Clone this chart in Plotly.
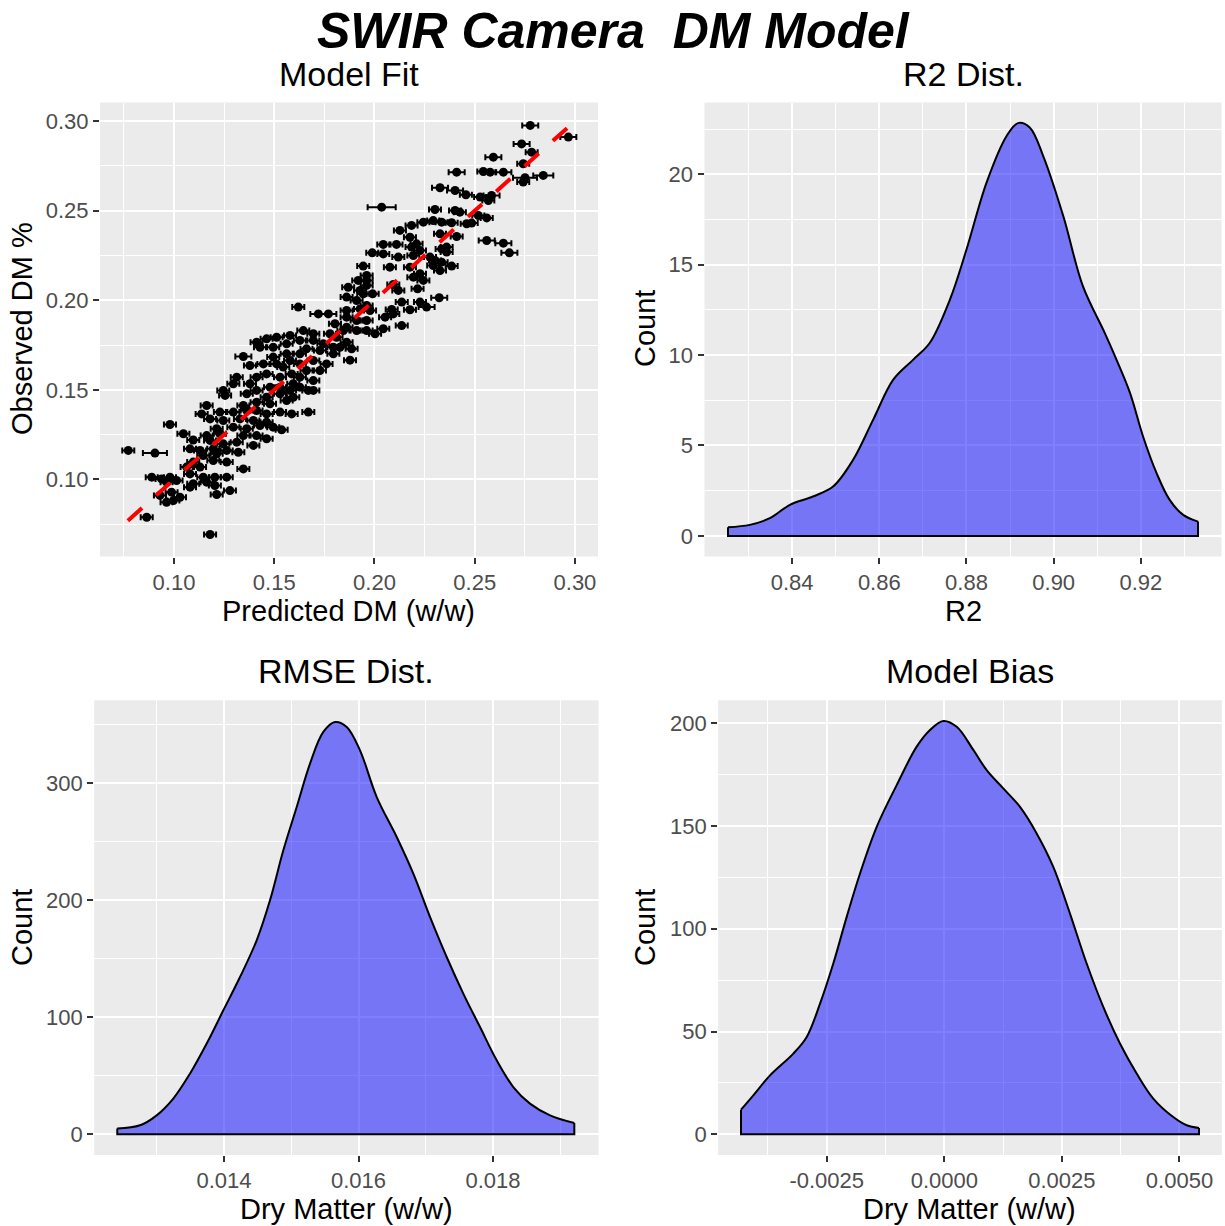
import plotly.graph_objects as go

FONT = "Liberation Sans, Arial, sans-serif"

# ---------------- Data ----------------
# Model fit: predicted vs observed DM with horizontal error (predicted SD)
pred_dm = [0.2777,0.2967,0.2734,0.2784,0.2593,0.2742,0.2410,0.2543,0.2577,0.2643,
0.2842,0.2751,0.2742,0.2327,0.2402,0.2456,0.2584,0.2568,0.2036,0.2302,
0.2402,0.2426,0.2518,0.2560,0.2485,0.2244,0.2185,0.2335,0.2385,0.2127,
0.2560,0.2643,0.2673,0.2410,0.2327,0.2177,0.2210,0.2044,0.2110,0.1989,
0.2044,0.2119,0.2194,0.2227,0.2335,0.2360,0.2335,0.2385,0.2293,0.2327,
0.1944,0.1961,0.2177,0.2227,0.2194,0.2244,0.1919,0.1869,0.1961,0.2094,
0.2215,0.1928,0.2119,0.2323,0.1861,0.1944,0.1991,0.2227,0.2260,0.2136,
0.2177,0.2086,0.2053,0.1961,0.1928,0.1861,0.1978,0.1620,0.1720,0.1770,
0.1861,0.1911,0.1961,0.1803,0.1861,0.1911,0.1961,0.2044,0.2003,0.1645,
0.1695,0.1778,0.1811,0.1861,0.1886,0.1828,0.1878,0.1412,0.1462,0.1512,
0.1579,0.1346,0.1429,0.1495,0.1562,0.1628,0.1695,0.1745,0.1661,0.1728,
0.1795,0.1628,0.1562,0.1495,0.1446,0.1512,0.1579,0.1628,0.1695,0.1761,
0.1661,0.1728,0.1462,0.1529,0.1587,0.1628,0.1695,0.1595,0.1529,0.1479,
0.1579,0.1628,0.1670,0.1412,0.1379,0.1296,0.1246,0.1255,0.1363,0.1462,
0.1529,0.1595,0.1163,0.1346,0.1412,0.1479,0.1229,0.1296,0.1363,0.1412,
0.1462,0.1529,0.1587,0.1670,0.1138,0.1180,0.1246,0.1329,0.1396,0.1462,
0.0980,0.1213,0.1296,0.1363,0.1429,0.1495,0.1537,0.1047,0.1163,0.1229,
0.1346,0.1412,0.1462,0.1096,0.1180,0.1246,0.1313,0.1396,0.1080,0.1130,
0.1196,0.1263,0.1321,0.0772,0.0905,0.1146,0.1213,0.1096,0.1196,0.1263,
0.1063,0.1130,0.1346,0.0889,0.0938,0.0980,0.1080,0.1146,0.1204,0.1263,
0.0963,0.1013,0.1096,0.1163,0.1080,0.1204,0.1279,0.0930,0.0988,0.1030,
0.1213,0.0963,0.0997,0.0864,0.1180,0.1379,0.1313,0.1412,0.1545,0.1695,
0.1562,0.1795,0.1845,0.1911,0.1961,0.2077,0.2460,0.2527,0.2136,0.2094,
0.2293,0.2185,0.2302,0.2360,0.2277]

obs_dm = [0.2976,0.2911,0.2873,0.2827,0.2799,0.2762,0.2715,0.2719,0.2715,0.2715,
0.2697,0.2684,0.2660,0.2628,0.2613,0.2589,0.2585,0.2557,0.2520,0.2507,
0.2501,0.2492,0.2473,0.2460,0.2431,0.2436,0.2418,0.2436,0.2433,0.2390,
0.2334,0.2319,0.2265,0.2356,0.2371,0.2352,0.2315,0.2312,0.2312,0.2265,
0.2259,0.2241,0.2250,0.2278,0.2287,0.2269,0.2213,0.2191,0.2194,0.2166,
0.2191,0.2139,0.2185,0.2148,0.2129,0.2111,0.2111,0.2073,0.2083,0.2088,
0.2064,0.2055,0.2055,0.2014,0.2018,0.2036,0.2036,0.1990,0.1962,0.1990,
0.1947,0.1949,0.1906,0.1971,0.1952,0.1943,0.1943,0.1962,0.1924,0.1924,
0.1906,0.1887,0.1887,0.1869,0.1850,0.1831,0.1831,0.1841,0.1813,0.1831,
0.1813,0.1813,0.1794,0.1766,0.1729,0.1738,0.1666,0.1766,0.1785,0.1794,
0.1804,0.1686,0.1738,0.1738,0.1757,0.1776,0.1776,0.1757,0.1729,0.1720,
0.1701,0.1701,0.1701,0.1683,0.1645,0.1645,0.1664,0.1645,0.1664,0.1645,
0.1608,0.1608,0.1589,0.1571,0.1589,0.1571,0.1552,0.1534,0.1515,0.1515,
0.1497,0.1515,0.1497,0.1497,0.1534,0.1534,0.1497,0.1469,0.1478,0.1459,
0.1478,0.1459,0.1413,0.1413,0.1431,0.1422,0.1376,0.1376,0.1385,0.1385,
0.1366,0.1376,0.1366,0.1376,0.1366,0.1338,0.1329,0.1338,0.1329,0.1320,
0.1307,0.1283,0.1292,0.1283,0.1301,0.1292,0.1277,0.1255,0.1245,0.1255,
0.1245,0.1245,0.1227,0.1220,0.1218,0.1199,0.1208,0.1190,0.1171,0.1162,
0.1171,0.1162,0.1152,0.1162,0.1147,0.1134,0.1143,0.1097,0.1106,0.1097,
0.1069,0.1069,0.1059,0.1013,0.1003,0.1013,0.1031,0.1013,0.1013,0.1013,
0.0985,0.0994,0.0976,0.0985,0.0957,0.0966,0.0938,0.0911,0.0929,0.0901,
0.0916,0.0873,0.0882,0.0789,0.0693,0.1636,0.1571,0.1571,0.1627,0.1497,
0.1441,0.1738,0.1831,0.1999,0.2111,0.2185,0.2427,0.2576,0.1859,0.1924,
0.2445,0.2297,0.2222,0.2297,0.2241]

pred_sd = [0.004,0.004,0.004,0.003,0.004,0.003,0.004,0.003,0.003,0.004,
0.005,0.006,0.003,0.004,0.004,0.003,0.004,0.003,0.007,0.003,
0.003,0.003,0.003,0.003,0.003,0.003,0.003,0.003,0.003,0.003,
0.004,0.004,0.004,0.003,0.003,0.003,0.003,0.003,0.003,0.003,
0.003,0.003,0.003,0.003,0.003,0.003,0.003,0.003,0.003,0.003,
0.003,0.003,0.003,0.003,0.003,0.003,0.003,0.003,0.003,0.003,
0.003,0.003,0.003,0.004,0.003,0.003,0.003,0.003,0.004,0.003,
0.003,0.003,0.003,0.003,0.003,0.003,0.003,0.003,0.004,0.004,
0.003,0.003,0.003,0.003,0.003,0.003,0.003,0.003,0.003,0.003,
0.003,0.003,0.003,0.003,0.003,0.003,0.003,0.003,0.003,0.003,
0.003,0.004,0.003,0.003,0.003,0.003,0.003,0.003,0.003,0.003,
0.003,0.003,0.003,0.003,0.003,0.003,0.003,0.003,0.003,0.003,
0.003,0.003,0.003,0.003,0.003,0.003,0.003,0.003,0.003,0.003,
0.003,0.003,0.003,0.003,0.003,0.003,0.003,0.003,0.003,0.003,
0.003,0.003,0.003,0.003,0.003,0.003,0.003,0.003,0.003,0.003,
0.003,0.003,0.003,0.003,0.003,0.003,0.003,0.003,0.003,0.003,
0.003,0.003,0.003,0.003,0.003,0.003,0.003,0.003,0.003,0.003,
0.003,0.003,0.003,0.003,0.003,0.003,0.003,0.003,0.003,0.003,
0.003,0.003,0.003,0.003,0.006,0.003,0.003,0.003,0.003,0.003,
0.003,0.003,0.003,0.003,0.003,0.003,0.003,0.003,0.003,0.003,
0.003,0.003,0.003,0.003,0.003,0.003,0.003,0.003,0.003,0.003,
0.003,0.003,0.003,0.003,0.003,0.003,0.003,0.003,0.003,0.003,
0.003,0.003,0.003,0.003,0.003,0.003,0.003,0.003,0.003,0.003,
0.003,0.003,0.003,0.003,0.003]

# 1:1 reference line
ref_x = [0.077, 0.297]
ref_y = [0.077, 0.297]

# R2 density
r2_x = [0.8253,0.8303,0.8349,0.8395,0.8448,0.8494,0.8540,0.8586,0.8632,0.8678,
0.8716,0.8762,0.8800,0.8846,0.8892,0.8918,0.8945,0.8976,0.9022,0.9067,
0.9117,0.9144,0.9175,0.9205,0.9236,0.9266,0.9297,0.9331]
r2_y = [0.48,0.61,0.98,1.72,2.18,2.73,4.21,6.43,8.64,9.75,
10.68,13.07,15.84,19.54,22.12,22.83,22.59,21.01,17.69,13.81,
11.23,9.75,7.91,5.50,3.47,1.99,1.16,0.79]

# RMSE density
rmse_x = [0.012413,0.012751,0.012999,0.013246,0.013494,0.013743,0.013990,0.014238,0.014486,0.014684,
0.014882,0.015081,0.015279,0.015477,0.015651,0.015825,0.016022,0.016271,0.016568,0.016815,
0.017063,0.017311,0.017558,0.017807,0.018055,0.018302,0.018550,0.018848,0.019209]
rmse_y = [4.9,7.7,16.2,30.5,51.8,77.5,105.9,134.3,165.7,199.8,
242.5,279.5,316.6,343.6,352.1,347.8,327.9,288.0,253.9,222.6,
185.6,151.4,120.2,91.6,63.2,40.4,26.2,16.2,9.6]

# Bias density
bias_x = [-0.004322,-0.004060,-0.003705,-0.003210,-0.002925,-0.002642,-0.002360,-0.002075,-0.001792,-0.001437,
-0.001012,-0.000587,-0.000304,-0.000021,0.000264,0.000617,0.000901,0.001254,0.001610,0.001964,
0.002317,0.002672,0.003027,0.003380,0.003735,0.004090,0.004443,0.004868,0.005153,0.005415]
bias_y = [12.0,19.0,28.7,39.3,47.4,63.6,83.1,105.8,126.9,149.6,
169.9,188.6,196.7,201.1,198.3,187.0,177.2,168.3,159.3,146.4,
130.1,107.4,83.1,62.0,44.2,29.6,17.4,8.4,4.4,3.1]

# Tick labels
fit_ticks = [0.10, 0.15, 0.20, 0.25, 0.30]
fit_ticktext = ["0.10", "0.15", "0.20", "0.25", "0.30"]
r2_xticks = [0.84, 0.86, 0.88, 0.90, 0.92]
r2_xticktext = ["0.84", "0.86", "0.88", "0.90", "0.92"]
r2_yticks = [0, 5, 10, 15, 20]
rmse_xticks = [0.014, 0.016, 0.018]
rmse_xticktext = ["0.014", "0.016", "0.018"]
rmse_yticks = [0, 100, 200, 300]
bias_xticks = [-0.0025, 0.0, 0.0025, 0.005]
bias_xticktext = ["-0.0025", "0.0000", "0.0025", "0.0050"]
bias_yticks = [0, 50, 100, 150, 200]

# ---------------- Figure ----------------
W, H = 1225, 1226
fig = go.Figure()

FILL = "rgba(0,0,255,0.5)"

# Panel 1 scatter with horizontal error bars
fig.add_trace(go.Scatter(
    x=pred_dm, y=obs_dm, mode="markers",
    marker=dict(color="black", size=9, line=dict(width=0)),
    error_x=dict(type="data", array=pred_sd, color="black", thickness=2, width=3),
    xaxis="x", yaxis="y", showlegend=False, hoverinfo="skip"))
fig.add_trace(go.Scatter(
    x=ref_x, y=ref_y, mode="lines",
    line=dict(color="red", width=4, dash="19px,19px"),
    xaxis="x", yaxis="y", showlegend=False, hoverinfo="skip"))

def add_density(xs, ys, xa, ya):
    fig.add_trace(go.Scatter(
        x=xs, y=ys, mode="lines", fill="tozeroy", fillcolor=FILL,
        line=dict(color="black", width=2, shape="spline", smoothing=1.0),
        xaxis=xa, yaxis=ya, showlegend=False, hoverinfo="skip"))
    fig.add_trace(go.Scatter(
        x=[xs[0], xs[0], xs[-1], xs[-1]], y=[ys[0], 0, 0, ys[-1]], mode="lines",
        line=dict(color="black", width=2),
        xaxis=xa, yaxis=ya, showlegend=False, hoverinfo="skip"))

add_density(r2_x, r2_y, "x2", "y2")
add_density(rmse_x, rmse_y, "x3", "y3")
add_density(bias_x, bias_y, "x4", "y4")

tickfont = dict(family=FONT, size=22, color="#4D4D4D")

def ax(domain, rng, tickvals, ticktext, anchor, minor_dtick):
    return dict(
        domain=domain, range=rng, anchor=anchor,
        tickmode="array", tickvals=tickvals, ticktext=ticktext,
        ticks="outside", ticklen=6, tickwidth=1.6, tickcolor="#333333",
        tickfont=tickfont, showgrid=True, gridcolor="white", gridwidth=2,
        zeroline=False, showline=False,
        minor=dict(tickmode="linear", tick0=0, dtick=minor_dtick, showgrid=True,
                   gridcolor="white", gridwidth=1, ticks=""),
    )

top_row = [1 - 556.5 / H, 1 - 102.5 / H]
bot_row = [1 - 1155 / H, 1 - 700.3 / H]

fig.update_layout(
    width=W, height=H, autosize=False,
    margin=dict(l=0, r=0, t=0, b=0),
    paper_bgcolor="white", plot_bgcolor="#EBEBEB",
    font=dict(family=FONT, color="black"),
    xaxis=ax([100 / W, 598 / W], [0.0631, 0.3115], fit_ticks, fit_ticktext, "y", 0.025),
    yaxis=ax(top_row, [0.0570, 0.3104], fit_ticks, fit_ticktext, "x", 0.025),
    xaxis2=ax([704.5 / W, 1221.5 / W], [0.81991, 0.93849], r2_xticks, r2_xticktext, "y2", 0.01),
    yaxis2=ax(top_row, [-1.14, 23.97], r2_yticks, [str(v) for v in r2_yticks], "x2", 2.5),
    xaxis3=ax([94.2 / W, 598.6 / W], [0.01207, 0.01957], rmse_xticks, rmse_xticktext, "y3", 0.001),
    yaxis3=ax(bot_row, [-17.65, 370.6], rmse_yticks, [str(v) for v in rmse_yticks], "x3", 50),
    xaxis4=ax([718.1 / W, 1221.9 / W], [-0.004809, 0.005902], bias_xticks, bias_xticktext, "y4", 0.00125),
    yaxis4=ax(bot_row, [-10.05, 211.15], bias_yticks, [str(v) for v in bias_yticks], "x4", 25),
)

def ann(text, xpx, ypx, size, angle=0):
    return dict(text=text, x=xpx / W, y=1 - ypx / H, xref="paper", yref="paper",
                xanchor="center", yanchor="middle", showarrow=False, textangle=angle,
                font=dict(family=FONT, size=size, color="black"))

annotations = [
    ann("<b><i>SWIR Camera \u00a0DM Model</i></b>", 613, 31, 50),
    ann("Model Fit", 349, 74, 34),
    ann("R2 Dist.", 963, 74, 34),
    ann("RMSE Dist.", 346, 671, 34),
    ann("Model Bias", 970, 671, 34),
    ann("Predicted DM (w/w)", 349, 611, 29),
    ann("R2", 963, 611, 29),
    ann("Dry Matter (w/w)", 346, 1209, 29),
    ann("Dry Matter (w/w)", 970, 1209, 29),
    ann("Observed DM %", 22, 329, 29, -90),
    ann("Count", 645, 329, 29, -90),
    ann("Count", 22, 928, 29, -90),
    ann("Count", 645, 928, 29, -90),
]
fig.update_layout(annotations=annotations)

fig.write_html("out.html")
